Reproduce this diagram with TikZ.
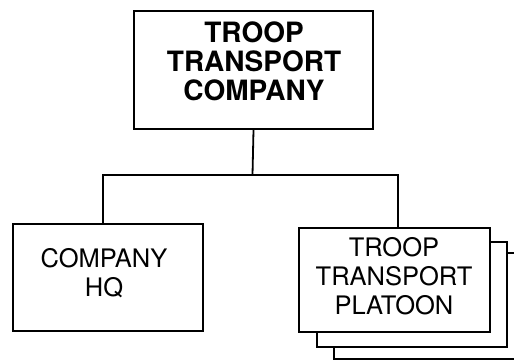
\documentclass[tikz,border=0pt]{standalone}
\usepackage{fontspec}
\setmainfont{TeX Gyre Heros}
\begin{document}
\begin{tikzpicture}[x=1pt,y=-1pt,
  box/.style={draw=black,line width=2pt,fill=white,inner sep=0pt,anchor=north west},
  conn/.style={draw=black,line width=1.8pt},
  bigtxt/.style={align=center,inner sep=0pt,font=\fontsize{28}{29}\selectfont\bfseries},
  smalltxt/.style={align=center,inner sep=0pt,font=\fontsize{25.5}{29}\selectfont}]
\useasboundingbox (0,0) rectangle (514,359);
\begin{scope}
\clip (0,0) rectangle (514,359);
% top box
\node[box,minimum width=239pt,minimum height=118pt] (top) at (133,10) {};
\node[bigtxt] (topT) at (254,61.5) {TROOP\\TRANSPORT\\COMPANY};
% left box
\node[box,minimum width=190pt,minimum height=107pt] (hq) at (12,223) {};
\node[smalltxt] (hqT) at (104,273) {COMPANY\\HQ};
% stacked platoon boxes
\node[box,minimum width=200pt,minimum height=106pt] (p3) at (333,252) {};
\node[box,minimum width=190pt,minimum height=105pt] (p2) at (316,241) {};
\node[box,minimum width=191pt,minimum height=104pt] (p1) at (298,227) {};
\node[smalltxt] (p1T) at (394,276) {TROOP\\TRANSPORT\\PLATOON};
% connectors
\coordinate (j) at (252.5,175);
\draw[conn] (top.south) -- (j);
\draw[conn] ([xshift=-5pt]hq.north) |- (j) -| ([xshift=3.5pt]p1.north);
\end{scope}
\end{tikzpicture}
\end{document}
